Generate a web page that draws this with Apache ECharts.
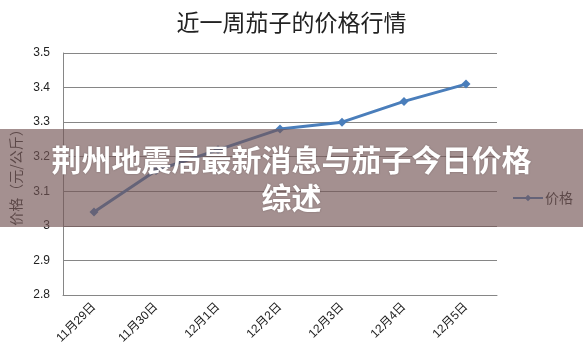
<!DOCTYPE html>
<html>
<head>
<meta charset="utf-8">
<script src="https://cdn.jsdelivr.net/npm/echarts@6/dist/echarts.min.js"></script>
<style>
html,body{margin:0;padding:0;background:#fff;}
#main{width:583px;height:357px;}
</style>
</head>
<body>
<div id="main"></div>
<script>
var categories = ['11月29日', '11月30日', '12月1日', '12月2日', '12月3日', '12月4日', '12月5日'];
var prices = [3.04, 3.16, 3.22, 3.28, 3.30, 3.36, 3.41];
var seriesName = '价格';
var titleText = '近一周茄子的价格行情';
var yAxisName = '价格（元/公斤）';
var bannerLines = ['荆州地震局最新消息与茄子今日价格', '综述'];

var chart = echarts.init(document.getElementById('main'), null, {renderer: 'canvas'});
var baseFont = '"Liberation Sans", "Noto Sans CJK SC", sans-serif';
var option = {
  backgroundColor: '#ffffff',
  animation: false,
  title: {
    text: titleText,
    left: 'center',
    top: 6,
    textStyle: {fontSize: 23, fontWeight: 'normal', color: '#222', fontFamily: '"Noto Sans CJK SC", sans-serif'}
  },
  legend: {
    data: [seriesName],
    left: 512,
    top: 191,
    padding: 0,
    itemWidth: 30,
    itemHeight: 8,
    itemGap: 2,
    textStyle: {fontSize: 14, color: '#333', padding: [0, 0, 0, -3], fontFamily: '"Noto Sans CJK SC", sans-serif'}
  },
  grid: {left: 63, right: 86, top: 53, bottom: 62},
  xAxis: {
    type: 'category',
    data: categories,
    boundaryGap: true,
    axisLine: {show: true, lineStyle: {color: '#868686', width: 1}},
    axisTick: {show: false},
    axisLabel: {rotate: 45, fontSize: 12, color: '#222', margin: 10, fontFamily: baseFont, interval: 0}
  },
  yAxis: {
    type: 'value',
    min: 2.8,
    max: 3.5,
    interval: 0.1,
    name: yAxisName,
    nameLocation: 'middle',
    nameGap: 38,
    nameTextStyle: {fontSize: 14, color: '#333', fontFamily: '"Noto Sans CJK SC", sans-serif'},
    axisLine: {show: true, lineStyle: {color: '#868686', width: 1}},
    axisTick: {show: false},
    splitLine: {show: true, lineStyle: {color: '#868686', width: 1}},
    axisLabel: {
      fontSize: 12, color: '#222', margin: 13, fontFamily: baseFont,
      formatter: function (v) { return String(parseFloat(v.toFixed(1))); }
    }
  },
  series: [{
    name: seriesName,
    type: 'line',
    data: prices,
    symbol: 'diamond',
    symbolSize: 9,
    lineStyle: {color: '#4A7EBB', width: 3},
    itemStyle: {color: '#4A7EBB'},
    z: 3
  }],
  graphic: [
    {
      type: 'rect',
      left: 0,
      top: 129,
      shape: {width: 583, height: 98},
      style: {fill: 'rgba(115,85,85,0.65)'},
      z: 100
    },
    {
      type: 'text',
      left: 'center',
      top: 141,
      style: {
        text: bannerLines.join('\n'),
        fill: '#ffffff',
        font: 'bold 30px "Noto Sans CJK SC", sans-serif',
        textAlign: 'center',
        lineHeight: 38,
        textShadowColor: 'rgba(0,0,0,0.25)',
        textShadowBlur: 2
      },
      z: 101
    }
  ]
};
chart.setOption(option);
</script>
</body>
</html>
